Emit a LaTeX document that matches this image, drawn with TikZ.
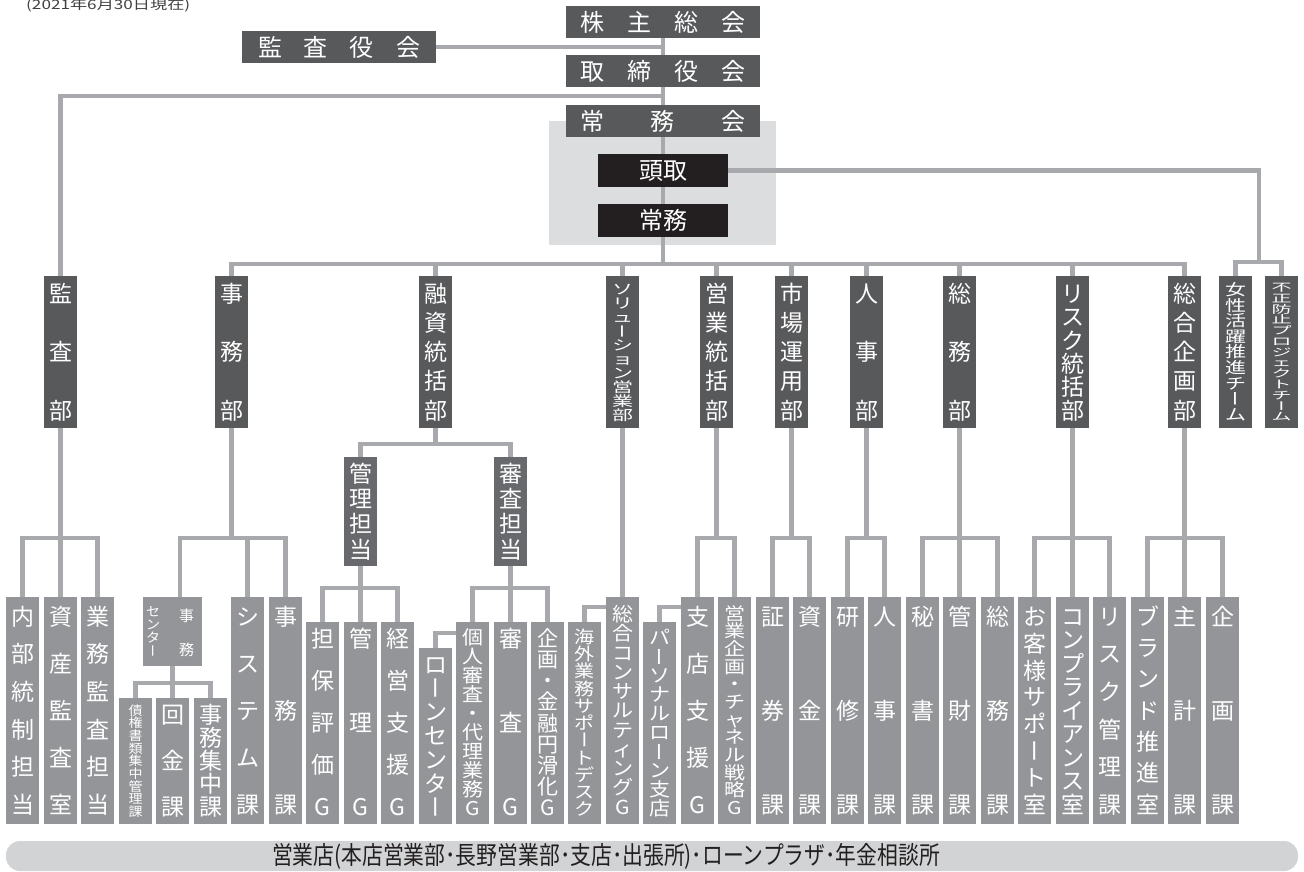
\documentclass[tikz,border=0pt]{standalone}
\usepackage{fontspec}
\setmainfont{Noto Sans CJK JP}
\usetikzlibrary{calc}
\definecolor{lc}{HTML}{A7A9AC}
\definecolor{topc}{HTML}{58595B}
\definecolor{deptc}{HTML}{58595B}
\definecolor{midc}{HTML}{68696C}
\definecolor{leafc}{HTML}{939598}
\definecolor{blk}{HTML}{231F20}
\definecolor{bgc}{HTML}{DCDDDE}
\definecolor{banc}{HTML}{D1D3D4}
\definecolor{ttc}{HTML}{404041}
\pgfdeclarelayer{back}
\pgfdeclarelayer{lines}
\pgfsetlayers{back,lines,main}
\makeatletter
\newcommand\vtcell{\hbox to 1em{\hss\vrule height .88em depth .12em width 0pt\expandafter\ifx\vt@c ー\rotatebox[origin=c]{90}{\vrule height .88em depth .12em width 0pt ー}\else\vt@c\fi\hss}}
\newcommand\vsp[2]{\vbox to #1{\offinterlineskip\@tfor\vt@c:=#2\do{\vtcell\vskip 0pt plus 1fill minus 1fill}\unskip}}
\newcommand\vnat[1]{\vbox{\offinterlineskip\@tfor\vt@c:=#1\do{\vtcell}}}
\newcommand\vdn[3]{\resizebox*{#1}{#2}{\vnat{#3}}}
\makeatother
\newcommand\fk[4]{\draw[conn] (#1.south) -- (#1.south |- #2);\draw[conn] (#3.north) -- (#3.north |- #2) -- (#4.north |- #2) -- (#4.north);}
\newcommand\dr[2]{\draw[conn] (#1.north) -- (#1.north |- #2);}
\begin{document}
\begin{tikzpicture}[x=1pt,y=-1pt,
 conn/.style={draw=lc,line width=4.5pt},
 topbox/.style={fill=topc,text=white,inner sep=0pt,minimum width=194pt,minimum height=32pt,font=\fontsize{24}{24}\selectfont},
 blackbox/.style={fill=blk,text=white,inner sep=0pt,minimum width=130pt,minimum height=33pt,font=\fontsize{24}{24}\selectfont},
 dept/.style={fill=deptc,text=white,inner sep=0pt,minimum width=33pt,minimum height=152pt,font=\fontsize{23}{23}\selectfont},
 midbox/.style={fill=midc,text=white,inner sep=0pt,minimum width=33pt,minimum height=109pt,font=\fontsize{23}{23}\selectfont},
 leaf/.style={fill=leafc,text=white,inner sep=0pt,minimum width=33pt,font=\fontsize{23}{23}\selectfont},
 lA/.style={leaf,minimum height=227pt},
 lB/.style={leaf,minimum height=202pt},
 lC/.style={leaf,minimum height=126pt}]
\useasboundingbox (0,0) rectangle (1304,871);
\begin{pgfonlayer}{back}
\fill[bgc] (549,121) rectangle (776,245);
\end{pgfonlayer}
% title
\node[anchor=west,inner sep=0pt,text=ttc,font=\fontsize{13}{13}\selectfont] (date) at (26,5) {\resizebox{164pt}{\height}{(2021年6月30日現在)}};
% top
\node[topbox] (kabu) at (663,22) {株\hspace{23pt}主\hspace{23pt}総\hspace{23pt}会};
\node[topbox] (tori) at (663,71) {取\hspace{23pt}締\hspace{23pt}役\hspace{23pt}会};
\node[topbox] (jomukai) at (663,121) {常\hspace{47pt}務\hspace{47pt}会};
\node[topbox] (kansayaku) at (339,47) {監\hspace{22pt}査\hspace{22pt}役\hspace{22pt}会};
\node[blackbox] (todori) at (663,170.5) {頭取};
\node[blackbox] (jomu) at (663,220.5) {常務};
% departments
\node[dept] (kansabu) at (60.5,352) {\vsp{137pt}{監査部}};
\node[dept] (jimubu) at (231.5,352) {\vsp{137pt}{事務部}};
\node[dept] (yushi) at (435.5,352) {\vsp{137pt}{融資統括部}};
\node[dept] (solution) at (622.5,352) {\vdn{21pt}{140pt}{ソリューション営業部}};
\node[dept] (eigyo) at (716.5,352) {\vsp{137pt}{営業統括部}};
\node[dept] (shijo) at (791.5,352) {\vsp{137pt}{市場運用部}};
\node[dept] (jinji) at (866.5,352) {\vsp{137pt}{人事部}};
\node[dept] (somu) at (959.5,352) {\vsp{137pt}{総務部}};
\node[dept] (risk) at (1072.5,352) {\vsp{137pt}{リスク統括部}};
\node[dept] (sogo) at (1184.5,352) {\vsp{137pt}{総合企画部}};
\node[dept] (josei) at (1235.5,352) {\vdn{21pt}{140pt}{女性活躍推進チーム}};
\node[dept] (fusei) at (1281.5,352) {\vdn{20pt}{140pt}{不正防止プロジェクトチーム}};
% middle
\node[midbox] (kanri) at (360.5,511.5) {\vsp{96pt}{管理担当}};
\node[midbox] (shinsa) at (510.5,511.5) {\vsp{96pt}{審査担当}};
% leaves
\node[lA] (naibu) at (22.5,710.5) {\vsp{208pt}{内部統制担当}};
\node[lA] (shisan) at (60.5,710.5) {\vsp{208pt}{資産監査室}};
\node[lA] (gyomukansa) at (97.5,710.5) {\vsp{208pt}{業務監査担当}};
\node[leaf,minimum width=59pt,minimum height=69pt,font=\fontsize{15}{15}\selectfont] (jc) at (172.5,631.5) {\hbox{\vdn{14pt}{52pt}{センター}\hspace{19pt}\vsp{48pt}{事務}\hspace{5pt}}};
\node[lC] (saiken) at (135.5,761) {\vdn{14pt}{114pt}{債権書類集中管理課}};
\node[lC] (kaikin) at (172.5,761) {\vsp{112pt}{回金課}};
\node[lC] (shuchu) at (210.5,761) {\vsp{112pt}{事務集中課}};
\node[lA] (system) at (247.5,710.5) {\vsp{208pt}{システム課}};
\node[lA] (jimuka) at (285.5,710.5) {\vsp{208pt}{事務課}};
\node[lB] (tanpo) at (322.5,723) {\vsp{188pt}{担保評価G}};
\node[lB] (kanrig) at (360.5,723) {\vsp{188pt}{管理G}};
\node[lB] (keiei) at (397.5,723) {\vsp{188pt}{経営支援G}};
\node[leaf,minimum height=176pt] (loan) at (435.5,736) {\vsp{163pt}{ローンセンター}};
\node[lB] (kojin) at (472.5,723) {\vdn{21pt}{190pt}{個人審査・代理業務G}};
\node[lB] (shinsag) at (510.5,723) {\vsp{188pt}{審査G}};
\node[lB] (kikakukin) at (547.5,723) {\vdn{21pt}{190pt}{企画・金融円滑化G}};
\node[lB] (kaigai) at (584.5,723) {\vdn{20pt}{190pt}{海外業務サポートデスク}};
\node[lA] (consul) at (622.5,710.5) {\vdn{21pt}{212pt}{総合コンサルティングG}};
\node[lB] (personal) at (659.5,723) {\vdn{21pt}{190pt}{パーソナルローン支店}};
\node[lA] (shiten) at (697.5,710.5) {\vsp{208pt}{支店支援G}};
\node[lA] (eikika) at (734.5,710.5) {\vdn{21pt}{212pt}{営業企画・チャネル戦略G}};
\node[lA] (shoken) at (772.5,710.5) {\vsp{208pt}{証券課}};
\node[lA] (shikin) at (809.5,710.5) {\vsp{208pt}{資金課}};
\node[lA] (kenshu) at (847.5,710.5) {\vsp{208pt}{研修課}};
\node[lA] (jinjika) at (884.5,710.5) {\vsp{208pt}{人事課}};
\node[lA] (hisho) at (922.5,710.5) {\vsp{208pt}{秘書課}};
\node[lA] (kanzai) at (959.5,710.5) {\vsp{208pt}{管財課}};
\node[lA] (somuka) at (997.5,710.5) {\vsp{208pt}{総務課}};
\node[lA] (okyaku) at (1034.5,710.5) {\vsp{208pt}{お客様サポート室}};
\node[lA] (compli) at (1072.5,710.5) {\vsp{208pt}{コンプライアンス室}};
\node[lA] (riskkanri) at (1109.5,710.5) {\vsp{208pt}{リスク管理課}};
\node[lA] (brand) at (1147.5,710.5) {\vsp{208pt}{ブランド推進室}};
\node[lA] (shukei) at (1184.5,710.5) {\vsp{208pt}{主計課}};
\node[lA] (kikaku) at (1222.5,710.5) {\vsp{208pt}{企画課}};
% banner
\node[fill=banc,rounded corners=14pt,minimum width=1292pt,minimum height=30pt,inner sep=0pt,text=blk] (eigyoten) at (652,856) {\hbox to 1292pt{\hspace{266pt}\resizebox{668pt}{\height}{\fontsize{25}{25}\selectfont 営業店(本店営業部･長野営業部･支店･出張所)･ローンプラザ･年金相談所}\hfil}};
% connectors
\coordinate (bus) at (663,264);
\coordinate (j1) at (663,96);
\coordinate (tj) at (1259,262);
\coordinate (ybot) at (0,538);
\coordinate (ymid) at (0,588);
\coordinate (yyu) at (0,444);
\coordinate (yjc) at (0,683);
\coordinate (jcd) at ($(jc.north)+(7.5,0)$);
\begin{pgfonlayer}{lines}
\draw[conn] (kabu.south) -- (tori.north);
\draw[conn] (tori.south) -- (jomukai.north);
\draw[conn] (jomukai.south) -- (todori.north);
\draw[conn] (todori.south) -- (jomu.north);
\draw[conn] (jomu.south) -- (bus);
\draw[conn] (kansayaku.east) -- (kansayaku.east -| kabu.south);
\draw[conn] (j1) -| (kansabu.north);
\draw[conn] (jimubu.north) |- (bus) -| (sogo.north);
\foreach \d in {yushi,solution,eigyo,shijo,jinji,somu,risk} {\dr{\d}{bus}}
\draw[conn] (todori.east) -| (tj);
\draw[conn] (josei.north) |- (tj) -| (fusei.north);
\fk{kansabu}{ybot}{naibu}{gyomukansa}
\dr{shisan}{ybot}
\draw[conn] (jimubu.south) -- (jimubu.south |- ybot);
\draw[conn] (jcd) -- (jcd |- ybot) -- (jimuka.north |- ybot) -- (jimuka.north);
\dr{system}{ybot}
\fk{jc}{yjc}{saiken}{shuchu}
\dr{kaikin}{yjc}
\fk{yushi}{yyu}{kanri}{shinsa}
\fk{kanri}{ymid}{tanpo}{keiei}
\dr{kanrig}{ymid}
\fk{shinsa}{ymid}{kojin}{kikakukin}
\dr{shinsag}{ymid}
\draw[conn] ([yshift=-11pt]kojin.north west) -| (loan.north);
\draw[conn] (solution.south) -- (consul.north);
\draw[conn] ([yshift=-10pt]consul.north west) -| (kaigai.north);
\draw[conn] ([yshift=-10pt]shiten.north west) -| (personal.north);
\fk{eigyo}{ybot}{shiten}{eikika}
\fk{shijo}{ybot}{shoken}{shikin}
\fk{jinji}{ybot}{kenshu}{jinjika}
\fk{somu}{ybot}{hisho}{somuka}
\dr{kanzai}{ybot}
\fk{risk}{ybot}{okyaku}{riskkanri}
\dr{compli}{ybot}
\fk{sogo}{ybot}{brand}{kikaku}
\dr{shukei}{ybot}
\end{pgfonlayer}
\end{tikzpicture}
\end{document}
